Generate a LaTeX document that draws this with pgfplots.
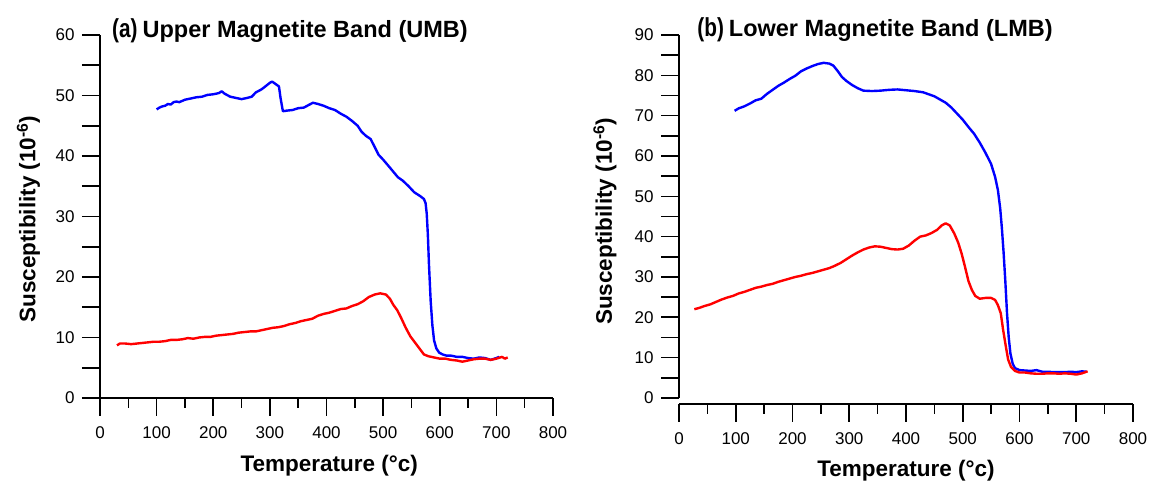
\documentclass[border=0pt]{standalone}
\usepackage{fontspec}
\setmainfont{Liberation Sans}
\usepackage{graphicx}
\usepackage{pgfplots}
\pgfplotsset{compat=1.18}

\pgfplotsset{
  magstyle/.style={
    scale only axis,
    clip=false,
    axis x line*=bottom,
    axis y line*=left,
    axis line style={line width=1.8pt},
    tick align=outside,
    every tick/.style={black, line width=1.6pt},
    major tick length=18pt,
    minor tick length=10pt,
    xmin=0, xmax=800,
    xtick={0,100,...,800},
    minor x tick num=1,
    tick label style={font=\fontsize{17}{17}\selectfont},
    xticklabel style={yshift=-7pt},
    yticklabel style={xshift=-4pt},
    /pgf/number format/assume math mode=true,
    label style={font=\fontsize{22.5}{22.5}\selectfont\bfseries},
    xlabel={Temperature (°c)},
    ylabel={Susceptibility (10\textsuperscript{-6})},
    every axis plot/.append style={line width=2.4pt, line join=round},
  }
}

\begin{document}
\begin{tikzpicture}
\useasboundingbox (0pt,0pt) rectangle (1150pt,486pt);

% ---------------- (a) UMB ----------------
\begin{axis}[magstyle,
  at={(100pt,88pt)}, anchor=south west,
  width=453pt, height=363pt,
  ymin=0, ymax=60,
  ytick={0,10,...,60},
  extra y ticks={5,15,...,55}, extra y tick labels={},
  xlabel style={at={(axis description cs:0.506,-0.186)}, anchor=center},
  ylabel style={at={(axis description cs:-0.158,0.493)}, anchor=center, rotate=0},
]
\addplot[blue] coordinates {
(100,47.7)(105,48.0)(110,48.2)(115,48.3)(120,48.6)(125,48.5)(130,48.9)(135,49.0)(140,48.9)(150,49.3)(160,49.5)(170,49.7)(180,49.8)(190,50.1)(200,50.2)(210,50.4)(215,50.7)(220,50.3)(230,49.8)(240,49.6)(250,49.4)(260,49.6)(268,49.8)(275,50.5)(285,51.0)(292,51.5)(300,52.1)(304,52.3)(310,51.9)(316,51.5)(319,49.5)(323,47.4)(330,47.5)(340,47.6)(350,47.9)(360,48.0)(368,48.4)(376,48.8)(385,48.6)(395,48.3)(405,47.9)(415,47.6)(425,47.0)(435,46.5)(445,45.8)(455,45.0)(462,44.0)(470,43.3)(478,42.8)(485,41.5)(492,40.2)(500,39.4)(510,38.3)(518,37.4)(526,36.5)(535,35.9)(545,35.0)(555,34.0)(565,33.4)(572,32.9)(575,32.2)(577,30.5)(579,27)(581,22)(584,16)(587,12)(590,9.5)(594,8.2)(599,7.5)(605,7.2)(612,7.0)(620,7.0)(630,6.8)(640,6.8)(650,6.6)(660,6.5)(670,6.7)(680,6.6)(690,6.3)(700,6.6)(705,6.8)
};
\addplot[red] coordinates {
(30,8.7)(35,9.0)(45,9.0)(55,8.9)(65,9.0)(75,9.1)(85,9.2)(95,9.3)(105,9.3)(115,9.4)(125,9.6)(135,9.6)(145,9.7)(155,9.9)(165,9.8)(175,10.0)(185,10.1)(195,10.1)(205,10.3)(215,10.4)(225,10.5)(235,10.6)(245,10.8)(255,10.9)(265,11.0)(275,11.0)(285,11.2)(295,11.4)(305,11.6)(315,11.7)(325,11.9)(335,12.2)(345,12.4)(355,12.7)(365,12.9)(375,13.1)(385,13.6)(395,13.9)(405,14.1)(415,14.4)(425,14.7)(435,14.8)(445,15.2)(455,15.5)(465,16.0)(475,16.7)(485,17.1)(495,17.3)(505,17.1)(512,16.4)(518,15.4)(525,14.5)(532,13.2)(540,11.6)(548,10.2)(556,9.2)(564,8.2)(572,7.2)(580,6.9)(590,6.7)(600,6.5)(610,6.5)(620,6.3)(630,6.2)(640,6.0)(650,6.2)(660,6.4)(670,6.5)(680,6.5)(690,6.3)(700,6.5)(710,6.8)(715,6.5)(720,6.7)
};
\node[anchor=base west, inner sep=0pt, font=\bfseries] at (axis description cs:0.0265,0.994)
  {\scalebox{0.8}[1]{\fontsize{26}{26}\selectfont (a)}\hspace{5pt}{\fontsize{23.5}{23.5}\selectfont Upper Magnetite Band (UMB)}};
\end{axis}

% ---------------- (b) LMB ----------------
\begin{axis}[magstyle,
  at={(679pt,82pt)}, anchor=south west,
  width=454pt, height=369pt,
  ymin=-1.5, ymax=90,
  y axis line style={shorten <=6pt},
  ytick={0,10,...,90},
  extra y ticks={5,15,...,85}, extra y tick labels={},
  xlabel style={at={(axis description cs:0.5,-0.182)}, anchor=center},
  ylabel style={at={(axis description cs:-0.163,0.495)}, anchor=center, rotate=0},
]
\addplot[blue] coordinates {
(98,71.2)(105,71.8)(115,72.3)(125,73.0)(135,73.8)(145,74.2)(155,75.4)(165,76.4)(175,77.4)(185,78.2)(195,79.1)(205,79.9)(215,81.0)(225,81.7)(235,82.3)(245,82.8)(255,83.1)(265,82.9)(272,82.4)(280,81.0)(287,79.6)(295,78.6)(305,77.6)(315,76.8)(325,76.2)(340,76.1)(355,76.2)(370,76.4)(385,76.5)(400,76.3)(415,76.1)(430,75.8)(440,75.3)(450,74.8)(460,74.0)(470,73.2)(480,72.0)(490,70.5)(500,69.0)(510,67.2)(520,65.5)(530,63.3)(540,60.8)(550,58.0)(557,54.8)(562,51.5)(566,47)(569,42)(572,36)(575,29)(578,21)(581,15)(584,11)(588,8.5)(592,7.4)(600,6.9)(610,6.8)(620,6.7)(630,6.9)(640,6.5)(650,6.5)(660,6.4)(670,6.4)(680,6.4)(690,6.5)(700,6.4)(710,6.6)(718,6.5)
};
\addplot[red] coordinates {
(27,22.0)(35,22.3)(45,22.8)(55,23.2)(65,23.8)(75,24.4)(85,24.9)(95,25.3)(105,25.9)(115,26.3)(125,26.8)(135,27.3)(145,27.6)(155,28.0)(165,28.3)(175,28.8)(185,29.2)(195,29.6)(205,30.0)(215,30.3)(225,30.7)(235,31.0)(245,31.4)(255,31.8)(265,32.2)(275,32.8)(285,33.5)(295,34.4)(305,35.3)(315,36.1)(325,36.8)(335,37.3)(345,37.6)(355,37.5)(365,37.2)(375,36.9)(385,36.8)(395,37.0)(405,37.8)(415,39.0)(425,40.0)(435,40.3)(445,40.9)(455,41.7)(463,42.8)(470,43.3)(477,42.8)(485,40.8)(492,38.5)(498,35.8)(504,32.5)(510,29.0)(516,26.8)(522,25.3)(530,24.6)(540,24.8)(550,24.8)(557,24.3)(562,23.0)(567,21.0)(571,17.0)(576,12.7)(580,9.5)(585,7.7)(592,6.7)(600,6.3)(610,6.3)(620,6.1)(630,6.0)(640,6.0)(650,6.1)(660,6.1)(670,6.0)(680,6.1)(690,6.0)(700,5.8)(710,6.1)(720,6.6)
};
\node[anchor=base west, inner sep=0pt, font=\bfseries] at (axis description cs:0.04,0.995)
  {\scalebox{0.8}[1]{\fontsize{26}{26}\selectfont (b)}\hspace{5pt}{\fontsize{23.5}{23.5}\selectfont Lower Magnetite Band (LMB)}};
\end{axis}
\end{tikzpicture}
\end{document}
